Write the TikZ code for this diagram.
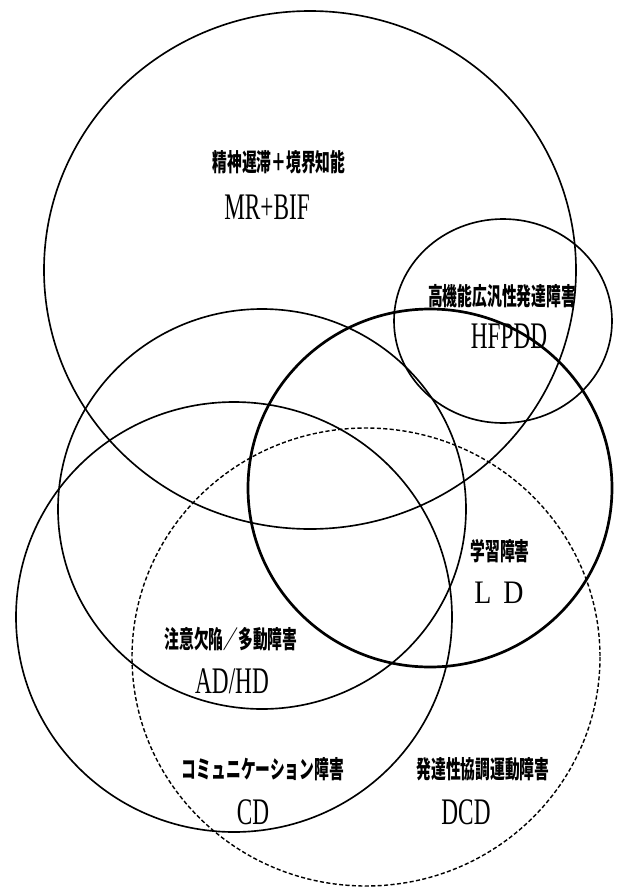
\documentclass[tikz,border=0pt]{standalone}
\usepackage{fontspec}
\setmainfont{Liberation Serif}
\newfontfamily\jpfont{Noto Sans CJK JP}
\usepackage{graphicx}
\newcommand{\jptext}[1]{\scalebox{0.6}[1]{\jpfont\bfseries\fontsize{21pt}{23pt}\selectfont #1}}
\newcommand{\abbr}[1]{\scalebox{0.62}[1]{\fontsize{32pt}{34pt}\selectfont #1}}

\begin{document}
\begin{tikzpicture}[
    x=0.03cm, y=-0.03cm,
    ring/.style={line width=1.4pt},
    thickring/.style={line width=2.3pt},
    dashring/.style={line width=1.2pt, dash pattern=on 3.5pt off 2pt},
    jplabel/.style={inner sep=0pt, anchor=center},
    ablabel/.style={inner sep=0pt, anchor=center}
]
    \useasboundingbox (0,0) rectangle (620,889);

    % Mental retardation + borderline intelligence
    \draw[ring] (310,270) ellipse [x radius=266, y radius=259];
    \node[jplabel] (mrjp) at (279,162) {\jptext{精神遅滞＋境界知能}};
    \node[ablabel] (mrab) at (267,207) {\abbr{MR+BIF}};

    % HFPDD
    \draw[ring] (503,321) ellipse [x radius=109, y radius=102];
    \node[jplabel] (hfjp) at (502,296) {\jptext{高機能広汎性発達障害}};
    \node[ablabel] (hfab) at (509,336) {\abbr{HFPDD}};

    % Learning disorder
    \draw[thickring] (430,488) ellipse [x radius=182, y radius=179];
    \node[jplabel] (ldjp) at (500,551) {\jptext{学習障害}};
    \node[ablabel] (ldab) at (499,593) {\scalebox{0.85}[1]{\fontsize{28pt}{30pt}\selectfont L\hspace{12pt}D}};

    % AD/HD
    \draw[ring] (262,509) ellipse [x radius=204, y radius=200];
    \node[jplabel] (adjp) at (231,639) {\jptext{注意欠陥／多動障害}};
    \node[ablabel] (adab) at (232,681) {\abbr{AD/HD}};

    % Communication disorder
    \draw[ring] (234,617) ellipse [x radius=218, y radius=215];
    \node[jplabel] (cdjp) at (263,769) {\jptext{コミュニケーション障害}};
    \node[ablabel] (cdab) at (253,812) {\abbr{CD}};

    % Developmental coordination disorder
    \draw[dashring] (366,657) ellipse [x radius=234, y radius=229];
    \node[jplabel] (dcdjp) at (483,769) {\jptext{発達性協調運動障害}};
    \node[ablabel] (dcdab) at (466,812) {\abbr{DCD}};

\end{tikzpicture}
\end{document}
